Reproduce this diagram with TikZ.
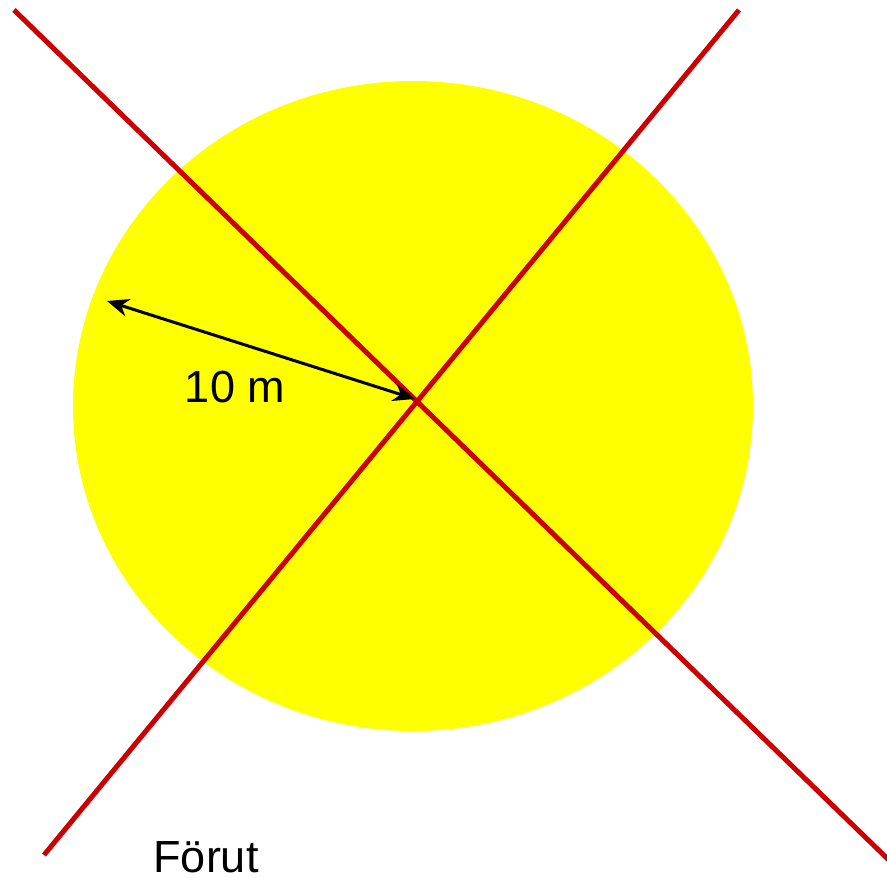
\documentclass[tikz,border=0pt]{standalone}
\usepackage{fontspec}
\setmainfont{Liberation Sans}
\usetikzlibrary{arrows.meta,shapes.geometric}
\definecolor{sunyellow}{RGB}{255,255,0}
\definecolor{crossred}{RGB}{204,0,0}
\tikzset{
  redline/.style={draw=crossred,line width=5pt},
  radiusarrow/.style={draw=black,line width=3pt,arrows={Stealth[length=22pt,width=18pt]-Stealth[length=22pt,width=18pt]}},
  lbl/.style={font=\fontsize{45}{54}\selectfont,inner sep=0pt,anchor=base}}
\begin{document}
\begin{tikzpicture}
\useasboundingbox (0pt,0pt) rectangle (887pt,-878pt);
\begin{scope}
\clip (0pt,0pt) rectangle (887pt,-878pt);
\node[ellipse,fill=sunyellow,minimum width=680pt,minimum height=650pt,inner sep=0pt] (disc) at (413pt,-406pt) {};
\coordinate (a1) at (14pt,-10pt);
\coordinate (a2) at (895pt,-866pt);
\coordinate (b1) at (739pt,-10pt);
\coordinate (b2) at (44pt,-855pt);
\coordinate (edge) at (107pt,-301pt);
\coordinate (ctr) at (415pt,-399pt);
\draw[redline] (a1) -- (a2);
\draw[redline] (b1) -- (b2);
\draw[radiusarrow] (edge) -- (ctr);
\node[lbl] (ten) at (235pt,-402pt) {10 m};
\node[lbl] (forut) at (206pt,-872pt) {Förut};
\end{scope}
\end{tikzpicture}
\end{document}
